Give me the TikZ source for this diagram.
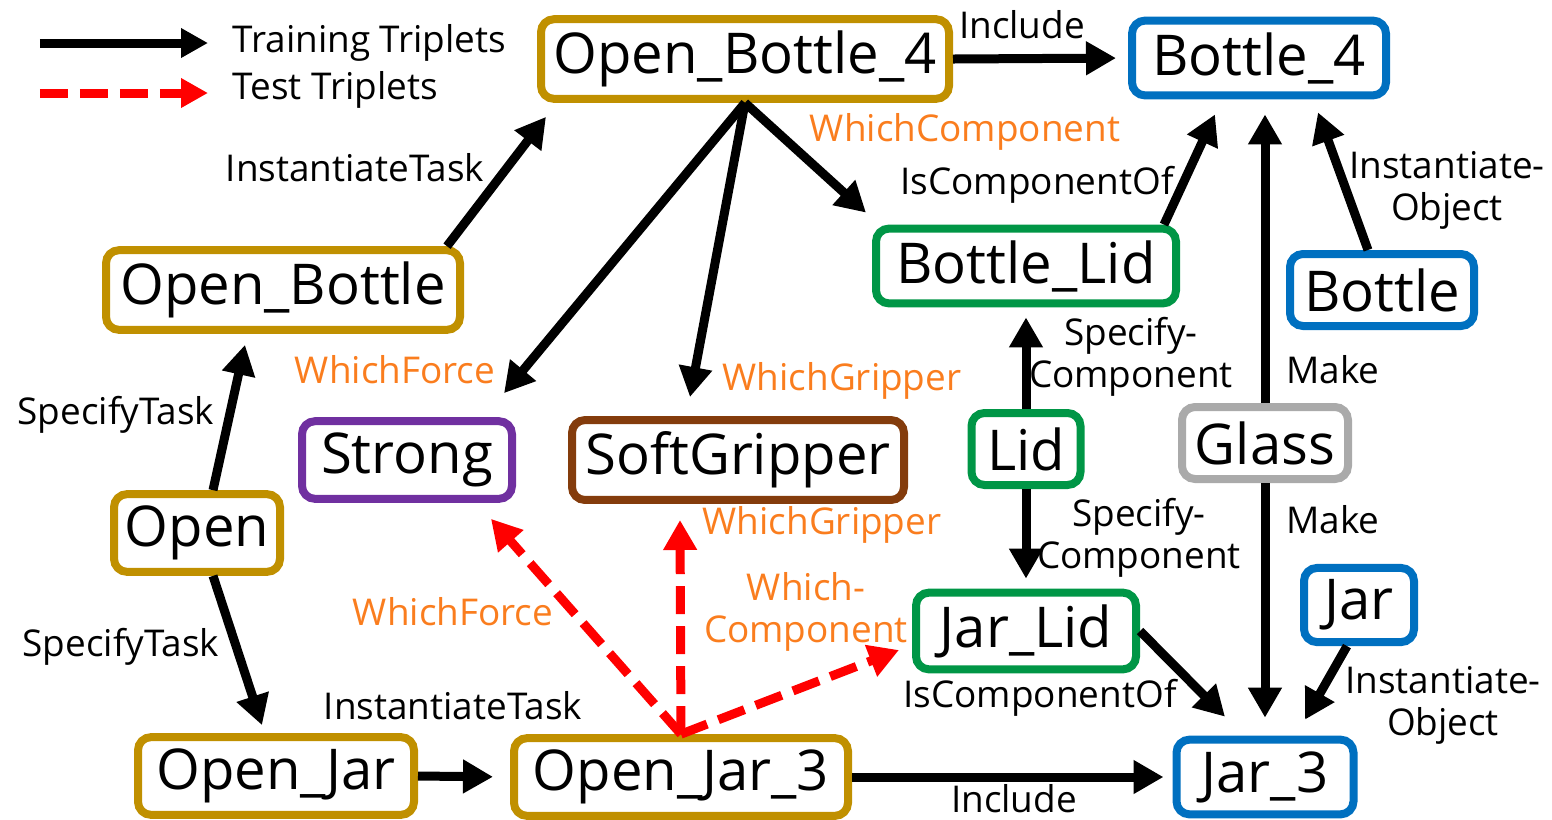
\documentclass[tikz,border=0pt]{standalone}
\usepackage{fontspec}
\setmainfont{Open Sans}
\usetikzlibrary{arrows.meta}

\definecolor{taskgold}{RGB}{192,144,0}
\definecolor{objblue}{RGB}{0,112,192}
\definecolor{partgreen}{RGB}{0,150,70}
\definecolor{forcepurple}{RGB}{112,48,160}
\definecolor{gripbrown}{RGB}{132,60,12}
\definecolor{glassgray}{RGB}{170,170,170}
\definecolor{qorange}{RGB}{250,125,30}

\tikzset{
  ent/.style={rectangle,rounded corners=0.13cm,draw,line width=0.08cm,fill=white,
    font=\fontsize{16}{16}\selectfont,inner xsep=0.1cm,minimum height=0.72cm},
  task/.style={ent,draw=taskgold},
  obj/.style={ent,draw=objblue},
  part/.style={ent,draw=partgreen},
  rel/.style={font=\fontsize{10.5}{12}\selectfont,align=center,inner sep=0pt},
  qrel/.style={rel,text=qorange},
  train/.style={line width=0.09cm,-{Triangle[length=0.3cm,width=0.32cm]}},
  test/.style={train,draw=red,dash pattern=on 0.28cm off 0.12cm},
  legtip/.style={-{Triangle[length=0.27cm,width=0.28cm]}}
}

\begin{document}
\begin{tikzpicture}
\useasboundingbox (0,0) rectangle (15.52,-8.19);

% legend
\coordinate (legA1) at (0.40,-0.43);
\coordinate (legA2) at (2.08,-0.43);
\coordinate (legB1) at (0.40,-0.93);
\coordinate (legB2) at (2.08,-0.93);
\draw[train,legtip] (legA1) -- (legA2);
\draw[test,legtip] (legB1) -- (legB2);
\node[rel,anchor=west] (legtrain) at (2.32,-0.43) {Training Triplets};
\node[rel,anchor=west] (legtest) at (2.32,-0.90) {Test Triplets};

% tasks
\node[task,minimum width=4.08cm] (openb4) at (7.45,-0.59) {Open\_Bottle\_4};
\node[task,minimum width=3.54cm] (openb) at (2.83,-2.90) {Open\_Bottle};
\node[task,minimum width=1.66cm] (open) at (1.97,-5.33) {Open};
\node[task,minimum width=2.76cm] (openj) at (2.76,-7.76) {Open\_Jar};
\node[task,minimum width=3.34cm] (openj3) at (6.81,-7.77) {Open\_Jar\_3};

% objects and parts
\node[obj,minimum width=2.54cm] (bottle4) at (12.59,-0.58) {Bottle\_4};
\node[obj,minimum width=1.84cm] (bottle) at (13.82,-2.90) {Bottle};
\node[obj,minimum width=1.10cm] (jar) at (13.59,-6.05) {Jar};
\node[obj,minimum width=1.77cm] (jar3) at (12.65,-7.77) {Jar\_3};
\node[part,minimum width=3.00cm] (bottlelid) at (10.26,-2.66) {Bottle\_Lid};
\node[part,minimum width=1.09cm] (lid) at (10.26,-4.49) {Lid};
\node[part,minimum width=2.20cm] (jarlid) at (10.26,-6.31) {Jar\_Lid};
\node[ent,draw=glassgray,minimum width=1.66cm] (glass) at (12.65,-4.43) {Glass};

% properties
\node[ent,draw=forcepurple,minimum width=2.10cm] (strong) at (4.07,-4.60) {Strong};
\node[ent,draw=gripbrown,minimum width=3.32cm] (softgrip) at (7.38,-4.60) {SoftGripper};

% training triplets
\draw[train,shorten >=0.12cm] (openb4.east) -- (bottle4.west);
\draw[train] ([xshift=-0.17cm]openb.north east) -- ([xshift=0.09cm,yshift=-0.14cm]openb4.south west);
\draw[train] (openb4.south) -- ([xshift=-0.12cm,yshift=0.24cm]strong.north east);
\draw[train] (openb4.south) -- ([xshift=-0.48cm,yshift=0.19cm]softgrip.north);
\draw[train] (openb4.south) -- ([xshift=-0.06cm,yshift=0.12cm]bottlelid.north west);
\draw[train] ([xshift=-0.16cm]bottlelid.north east) -- ([xshift=-0.44cm,yshift=-0.15cm]bottle4.south);
\draw[train,shorten >=0.15cm] (glass.north) -- (glass.north |- bottle4.south);
\draw[train] ([xshift=-0.14cm]bottle.north) -- ([xshift=0.59cm,yshift=-0.13cm]bottle4.south);
\draw[train,shorten >=0.1cm] (lid.north) -- (bottlelid.south);
\draw[train,shorten >=0.1cm] (lid.south) -- (jarlid.north);
\draw[train,shorten >=0.18cm] (glass.south) -- (glass.south |- jar3.north);
\draw[train] ([xshift=-0.12cm]jar.south) -- ([xshift=0.4cm,yshift=0.16cm]jar3.north);
\draw[train] (jarlid.east) -- ([xshift=-0.4cm,yshift=0.19cm]jar3.north);
\draw[train] ([xshift=0.16cm]open.north) -- ([xshift=-0.38cm,yshift=-0.11cm]openb.south);
\draw[train] ([xshift=0.16cm]open.south) -- ([xshift=-0.14cm,yshift=0.08cm]openj.north);
\draw[train,shorten >=0.17cm] (openj.east) -- (openj3.west);
\draw[train,shorten >=0.09cm] (openj3.east) -- (jar3.west);

% test triplets
\draw[test] (openj3.north) -- ([xshift=-0.25cm,yshift=-0.16cm]strong.south east);
\draw[test] (openj3.north) -- ([xshift=-0.58cm,yshift=-0.16cm]softgrip.south);
\draw[test] (openj3.north) -- ([xshift=-0.13cm,yshift=-0.19cm]jarlid.west);

% relation labels
\node[rel] (incA) at (10.22,-0.25) {Include};
\node[rel] (instA) at (3.55,-1.68) {InstantiateTask};
\node[qrel] (forceA) at (3.95,-3.70) {WhichForce};
\node[qrel] (gripA) at (8.42,-3.81) {WhichGripper};
\node[qrel] (compA) at (9.65,-1.32) {WhichComponent};
\node[rel] (iscompA) at (10.37,-1.85) {IsComponentOf};
\node[rel] (instobjA) at (14.47,-1.90) {Instantiate-\\Object};
\node[rel] (speccompA) at (11.31,-3.57) {Specify-\\Component};
\node[rel] (makeA) at (13.33,-3.70) {Make};
\node[rel] (makeB) at (13.33,-5.20) {Make};
\node[rel] (speccompB) at (11.39,-5.38) {Specify-\\Component};
\node[rel] (instobjB) at (14.43,-7.05) {Instantiate-\\Object};
\node[rel] (iscompB) at (10.40,-6.98) {IsComponentOf};
\node[rel] (spectA) at (1.16,-4.15) {SpecifyTask};
\node[rel] (spectB) at (1.21,-6.47) {SpecifyTask};
\node[rel] (instB) at (4.53,-7.06) {InstantiateTask};
\node[rel] (incB) at (10.14,-7.99) {Include};
\node[qrel] (forceB) at (4.53,-6.12) {WhichForce};
\node[qrel] (gripB) at (8.22,-5.25) {WhichGripper};
\node[qrel] (compB) at (8.06,-6.12) {Which-\\Component};
\end{tikzpicture}
\end{document}
